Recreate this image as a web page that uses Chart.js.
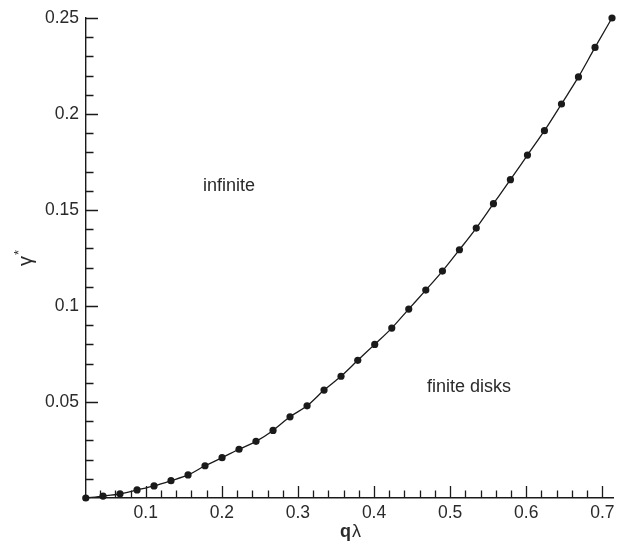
<!DOCTYPE html>
<html lang="en">
<head>
  <meta charset="UTF-8" />
  <title>gamma* vs q lambda</title>
  <script src="https://cdn.jsdelivr.net/npm/chart.js"></script>
  <style>
    html, body { margin: 0; padding: 0; background: #ffffff; }
    #wrap { width: 623px; height: 545px; }
  </style>
</head>
<body>
  <div id="wrap"><canvas id="chart" width="623" height="545"></canvas></div>

  <script>
    // data
    const qLambda = [0.0212, 0.0439, 0.0662, 0.0886, 0.1109, 0.1332, 0.1556, 0.1779,
                     0.2003, 0.2226, 0.2449, 0.2673, 0.2896, 0.3120, 0.3343, 0.3566,
                     0.3786, 0.4009, 0.4233, 0.4456, 0.4680, 0.4899, 0.5122, 0.5343,
                     0.5569, 0.5792, 0.6016, 0.6239, 0.6463, 0.6686, 0.6904, 0.7127];
    const gammaStar = [0.0, 0.0010, 0.0022, 0.0042, 0.0063, 0.0090, 0.0120, 0.0168,
                       0.0210, 0.0254, 0.0295, 0.0352, 0.0423, 0.0480, 0.0562, 0.0634,
                       0.0717, 0.0800, 0.0885, 0.0984, 0.1083, 0.1182, 0.1293, 0.1406,
                       0.1533, 0.1658, 0.1786, 0.1913, 0.2052, 0.2193, 0.2347, 0.2500];
    const xTicks = [0.1, 0.2, 0.3, 0.4, 0.5, 0.6, 0.7];
    const yTicks = [0.05, 0.1, 0.15, 0.2, 0.25];
    const regionLabels = ['infinite', 'finite disks'];
    const regionX = [0.1753, 0.4697];
    const regionY = [0.160, 0.055];

    const FONT = '"Liberation Sans", Arial, Helvetica, sans-serif';
    const INK = '#1a1a1a';
    const TEXT = '#2a2a2a';

    // minor tick positions (axis decoration only)
    const xMinor = [];
    for (let i = 2; i <= 35; i++) xMinor.push(i * 0.02);
    const yMinor = [];
    for (let i = 1; i <= 25; i++) yMinor.push(i * 0.01);

    // inward tick marks, axis titles and region labels
    const decorations = {
      id: 'decorations',
      afterDraw(chart) {
        const { ctx, chartArea, scales } = chart;
        const xs = scales.x, ys = scales.y;
        ctx.save();
        ctx.strokeStyle = INK;
        ctx.lineWidth = 1.3;
        ctx.beginPath();
        xMinor.forEach(v => {
          const major = xTicks.some(t => Math.abs(t - v) < 1e-6);
          const px = Math.round(xs.getPixelForValue(v)) + 0.5;
          ctx.moveTo(px, chartArea.bottom);
          ctx.lineTo(px, chartArea.bottom - (major ? 12 : 7.5));
        });
        yMinor.forEach(v => {
          const major = yTicks.some(t => Math.abs(t - v) < 1e-6);
          const py = Math.round(ys.getPixelForValue(v)) + 0.5;
          ctx.moveTo(chartArea.left, py);
          ctx.lineTo(chartArea.left + (major ? 12 : 7.5), py);
        });
        ctx.stroke();

        // x title: bold q + lambda
        ctx.fillStyle = TEXT;
        ctx.textBaseline = 'alphabetic';
        ctx.textAlign = 'left';
        const cx = (chartArea.left + chartArea.right) / 2 + 1;
        ctx.font = 'bold 18px ' + FONT;
        const wq = ctx.measureText('q').width;
        ctx.font = '18px ' + FONT;
        const wl = ctx.measureText('λ').width;
        let x0 = cx - (wq + wl + 1) / 2;
        ctx.font = 'bold 18px ' + FONT;
        ctx.fillText('q', x0, 537);
        ctx.font = '18px ' + FONT;
        ctx.fillText('λ', x0 + wq + 1, 537);

        // y title: gamma with superscript star, rotated
        ctx.save();
        ctx.translate(32, (chartArea.top + chartArea.bottom) / 2 + 1);
        ctx.rotate(-Math.PI / 2);
        ctx.font = '20px ' + FONT;
        const wg = ctx.measureText('γ').width;
        ctx.fillText('γ', -wg / 2 - 2, 0);
        ctx.font = '13px ' + FONT;
        ctx.fillText('*', wg / 2 - 1, -9);
        ctx.restore();

        // region labels
        ctx.font = '18px ' + FONT;
        regionLabels.forEach((t, i) => {
          ctx.fillText(t, xs.getPixelForValue(regionX[i]), ys.getPixelForValue(regionY[i]));
        });
        ctx.restore();
      }
    };

    const ctx = document.getElementById('chart').getContext('2d');
    new Chart(ctx, {
      type: 'scatter',
      data: {
        datasets: [{
          data: qLambda.map((x, i) => ({ x: x, y: gammaStar[i] })),
          showLine: true,
          borderColor: INK,
          borderWidth: 1.3,
          backgroundColor: INK,
          pointRadius: 3.6,
          pointBorderWidth: 0,
          pointBackgroundColor: INK,
          cubicInterpolationMode: 'monotone',
          clip: false
        }]
      },
      options: {
        responsive: false,
        animation: false,
        layout: { padding: { top: 18, right: 10, left: 0, bottom: 0 } },
        plugins: { legend: { display: false }, tooltip: { enabled: false } },
        scales: {
          x: {
            type: 'linear',
            min: 0.0215,
            max: 0.714,
            afterBuildTicks: s => { s.ticks = xTicks.map(v => ({ value: v })); },
            afterFit: s => { s.height = 47; },
            grid: { display: false, drawTicks: false },
            border: { display: true, color: INK, width: 1.4 },
            ticks: {
              color: TEXT,
              padding: 5,
              maxRotation: 0,
              autoSkip: false,
              font: { family: FONT, size: 17.5 },
              callback: v => String(v)
            }
          },
          y: {
            type: 'linear',
            min: 0,
            max: 0.25,
            afterBuildTicks: s => { s.ticks = yTicks.map(v => ({ value: v })); },
            afterFit: s => { s.width = 86; },
            grid: { display: false, drawTicks: false },
            border: { display: true, color: INK, width: 1.4 },
            ticks: {
              color: TEXT,
              padding: 7,
              autoSkip: false,
              font: { family: FONT, size: 17.5 },
              callback: v => String(v)
            }
          }
        }
      },
      plugins: [decorations]
    });
  </script>
</body>
</html>
